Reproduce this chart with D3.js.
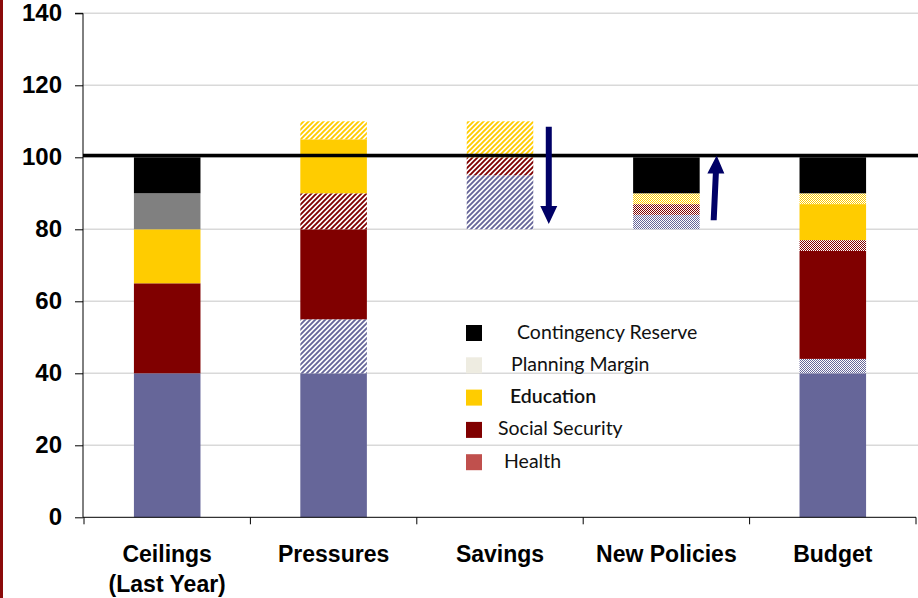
<!DOCTYPE html>
<html>
<head>
<meta charset="utf-8">
<script src="https://cdn.jsdelivr.net/npm/d3@7"></script>
<style>
  html, body { margin: 0; padding: 0; background: #fff; }
  svg { display: block; }
</style>
</head>
<body>
<svg id="chart" width="918" height="598"></svg>
<script>
// ---- data -------------------------------------------------------------
const categories = ["Ceilings|(Last Year)", "Pressures", "Savings", "New Policies", "Budget"];
const yTicks = [0, 20, 40, 60, 80, 100, 120, 140];
const ceilingLevel = 100;

// where each stack starts
const stackBase = [0, 0, 80, 80, 0];

// stacked segments per category, bottom to top: [series, value, fill style]
const ceilingsSegments = [
  ["Health", 40, "solid"],
  ["Social Security", 25, "solid"],
  ["Education", 15, "solid"],
  ["Planning Margin", 10, "solid"],
  ["Contingency Reserve", 10, "solid"]
];
const pressuresSegments = [
  ["Health", 40, "solid"],
  ["Health", 15, "hatch"],
  ["Social Security", 25, "solid"],
  ["Social Security", 10, "hatch"],
  ["Education", 15, "solid"],
  ["Education", 5, "hatch"]
];
const savingsSegments = [
  ["Health", 15, "hatch"],
  ["Social Security", 5, "hatch"],
  ["Education", 10, "hatch"]
];
const newPoliciesSegments = [
  ["Health", 4, "check"],
  ["Social Security", 3, "check"],
  ["Education", 3, "check"],
  ["Contingency Reserve", 10, "solid"]
];
const budgetSegments = [
  ["Health", 40, "solid"],
  ["Health", 4, "check"],
  ["Social Security", 30, "solid"],
  ["Social Security", 3, "check"],
  ["Education", 10, "solid"],
  ["Education", 3, "check"],
  ["Contingency Reserve", 10, "solid"]
];
const segmentsByCategory = [ceilingsSegments, pressuresSegments, savingsSegments, newPoliciesSegments, budgetSegments];

// direction arrows: [category, from value, to value]
const arrows = [
  ["Savings", 108.5, 81.5],
  ["New Policies", 82.5, 100.5]
];

const legendItems = ["Contingency Reserve", "Planning Margin", "Education", "Social Security", "Health"];

// ---- styling ----------------------------------------------------------
const barColor = {
  "Health": "#666699",
  "Social Security": "#800000",
  "Education": "#FFCC00",
  "Planning Margin": "#808080",
  "Contingency Reserve": "#000000"
};
const legendColor = {
  "Contingency Reserve": "#000000",
  "Planning Margin": "#EEECE1",
  "Education": "#FFCC00",
  "Social Security": "#800000",
  "Health": "#C0504D"
};
const legendIndent = [51, 45, 44, 32, 38];
const arrowColor = "#000066";

const svg = d3.select("#chart");
const margin = { left: 84, right: 916, top: 13.3, bottom: 517.3 };

const x = d3.scaleBand().domain(categories).range([margin.left, margin.right]).padding(0);
const y = d3.scaleLinear().domain([0, 140]).range([margin.bottom, margin.top]);
const barW = x.bandwidth() * 0.4;
const barX = c => x(c) + (x.bandwidth() - barW) / 2;

// left accent border
svg.append("rect").attr("x", 0).attr("y", 0).attr("width", 3).attr("height", 598).attr("fill", "#8B0A0A");

// patterns: diagonal hatching and fine checkerboard per series colour
const defs = svg.append("defs");
const keyOf = s => s.replace(/\s+/g, "");
Object.keys(barColor).forEach(series => {
  const col = barColor[series];
  const h = defs.append("pattern")
    .attr("id", "hatch-" + keyOf(series))
    .attr("patternUnits", "userSpaceOnUse")
    .attr("width", 5).attr("height", 5);
  h.append("rect").attr("width", 5).attr("height", 5).attr("fill", "#fff");
  h.append("path")
    .attr("d", "M-1,1 l2,-2 M0,5 l5,-5 M4,6 l2,-2")
    .attr("stroke", col).attr("stroke-width", 1.9);

  const c = defs.append("pattern")
    .attr("id", "check-" + keyOf(series))
    .attr("patternUnits", "userSpaceOnUse")
    .attr("width", 2).attr("height", 2);
  c.append("rect").attr("width", 2).attr("height", 2).attr("fill", "#fff");
  c.append("rect").attr("width", 1).attr("height", 1).attr("fill", col);
  c.append("rect").attr("x", 1).attr("y", 1).attr("width", 1).attr("height", 1).attr("fill", col);
});

function fillFor(series, style) {
  if (style === "hatch") return "url(#hatch-" + keyOf(series) + ")";
  if (style === "check") return "url(#check-" + keyOf(series) + ")";
  return barColor[series];
}

// gridlines
svg.append("g").selectAll("line")
  .data(yTicks.filter(v => v > 0))
  .join("line")
  .attr("x1", margin.left - 1).attr("x2", 918)
  .attr("y1", d => y(d)).attr("y2", d => y(d))
  .attr("stroke", "#D9D9D9").attr("stroke-width", 1.5);

// stacked bars
const segs = [];
categories.forEach((cat, i) => {
  let acc = stackBase[i];
  segmentsByCategory[i].forEach(([series, value, style]) => {
    segs.push({ cat, series, style, y0: acc, y1: acc + value });
    acc += value;
  });
});
svg.append("g").selectAll("rect")
  .data(segs)
  .join("rect")
  .attr("x", d => barX(d.cat))
  .attr("width", barW)
  .attr("y", d => y(d.y1))
  .attr("height", d => y(d.y0) - y(d.y1))
  .attr("fill", d => fillFor(d.series, d.style));

// ceiling line
svg.append("line")
  .attr("x1", margin.left - 1).attr("x2", 918)
  .attr("y1", y(ceilingLevel) - 1.8).attr("y2", y(ceilingLevel) - 1.8)
  .attr("stroke", "#000").attr("stroke-width", 3.5);

// arrows
const arrowG = svg.append("g").attr("fill", arrowColor);
arrows.forEach(([cat, from, to]) => {
  const cx = barX(cat) + barW + 15.5;
  const y0 = y(from), y1 = y(to);
  const dir = Math.sign(y1 - y0);
  const headLen = 18, headHalf = 8.5, shaftHalf = 3;
  const yh = y1 - dir * headLen;
  const tilt = dir < 0 ? 3 : 0;
  const bx = cx - tilt / 2, tx = cx + tilt / 2;
  const hx = bx + (tx - bx) * ((yh - y0) / (y1 - y0));
  const pts = [
    [bx - shaftHalf, y0], [hx - shaftHalf, yh], [hx - headHalf, yh],
    [tx, y1], [hx + headHalf, yh], [hx + shaftHalf, yh], [bx + shaftHalf, y0]
  ];
  arrowG.append("path").attr("d", d3.line()(pts) + "Z");
});

// y axis
const yAxis = svg.append("g")
  .attr("transform", `translate(${margin.left - 1},0)`)
  .call(d3.axisLeft(y).tickValues(yTicks).tickSize(8).tickPadding(13).tickFormat(d3.format("d")));
yAxis.select(".domain").attr("stroke", "#000").attr("d", `M-8,${y(140)}H0V${y(0)}`);
yAxis.selectAll(".tick line").attr("stroke", "#000");
yAxis.selectAll(".tick text")
  .attr("font-family", "Liberation Sans, Arial, sans-serif")
  .attr("font-weight", "bold").attr("font-size", 24).attr("fill", "#000");

// x axis
svg.append("line")
  .attr("x1", margin.left - 1).attr("x2", margin.right)
  .attr("y1", y(0)).attr("y2", y(0)).attr("stroke", "#000");
const edges = categories.map(c => x(c)).concat([x.range()[1]]);
svg.append("g").selectAll("line")
  .data(edges)
  .join("line")
  .attr("x1", d => d).attr("x2", d => d)
  .attr("y1", y(0)).attr("y2", y(0) + 7)
  .attr("stroke", "#000");

const xl = svg.append("g")
  .attr("font-family", "Liberation Sans, Arial, sans-serif")
  .attr("font-weight", "bold").attr("font-size", 23)
  .attr("text-anchor", "middle").attr("fill", "#000");
categories.forEach(cat => {
  const t = xl.append("text").attr("x", x(cat) + x.bandwidth() / 2).attr("y", 562);
  cat.split("|").forEach((line, k) => {
    t.append("tspan").attr("x", x(cat) + x.bandwidth() / 2).attr("dy", k ? 29.5 : 0).text(line);
  });
});

// legend
const lg = svg.append("g").attr("transform", "translate(466,325)");
legendItems.forEach((name, i) => {
  const row = lg.append("g").attr("transform", `translate(0,${i * 32.3})`);
  row.append("rect").attr("width", 16).attr("height", 16).attr("fill", legendColor[name]);
  row.append("text")
    .attr("x", legendIndent[i]).attr("y", 13.5)
    .attr("font-family", "Lato, Carlito, Calibri, sans-serif")
    .attr("font-size", 19.5)
    .attr("font-weight", name === "Education" ? 600 : 400)
    .attr("fill", "#111")
    .text(name);
});
</script>
</body>
</html>
